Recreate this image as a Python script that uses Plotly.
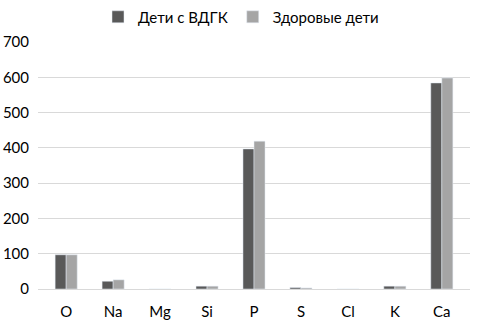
import plotly.graph_objects as go

categories = ["O", "Na", "Mg", "Si", "P", "S", "Cl", "K", "Ca"]
series_names = ["Дети с ВДГК", "Здоровые дети"]
vdgk = [97, 22, 0, 8, 397, 4, 0, 8, 584]
healthy = [97, 26, 0, 8, 419, 3, 0, 8, 598]
y_ticks = [0, 100, 200, 300, 400, 500, 600, 700]

fig = go.Figure()
fig.add_trace(go.Bar(x=categories, y=vdgk, name=series_names[0], marker_color="#595959"))
fig.add_trace(go.Bar(x=categories, y=healthy, name=series_names[1], marker_color="#A5A5A5"))

fig.update_layout(
    width=482, height=326,
    margin=dict(l=38, r=12, t=42, b=37, autoexpand=False),
    paper_bgcolor="white", plot_bgcolor="white",
    font=dict(family="Lato, Open Sans, sans-serif", size=15, color="#000000"),
    barmode="group", bargap=0.53, bargroupgap=0,
    legend=dict(orientation="h", x=0.5, xref="container", xanchor="center",
                y=1.101, yanchor="middle", font=dict(size=15),
                traceorder="normal", itemwidth=30),
    showlegend=True,
)
fig.update_xaxes(range=[-0.6, 8.6], showgrid=False, showline=False, ticks="",
                 ticklabelstandoff=12)
fig.update_yaxes(range=[0, 700], tickvals=y_ticks, showgrid=True, gridcolor="#D9D9D9",
                 gridwidth=1, zeroline=True, zerolinecolor="#D9D9D9", zerolinewidth=1,
                 showline=False, ticks="", ticklabelstandoff=8)

fig.write_html("out.html")
